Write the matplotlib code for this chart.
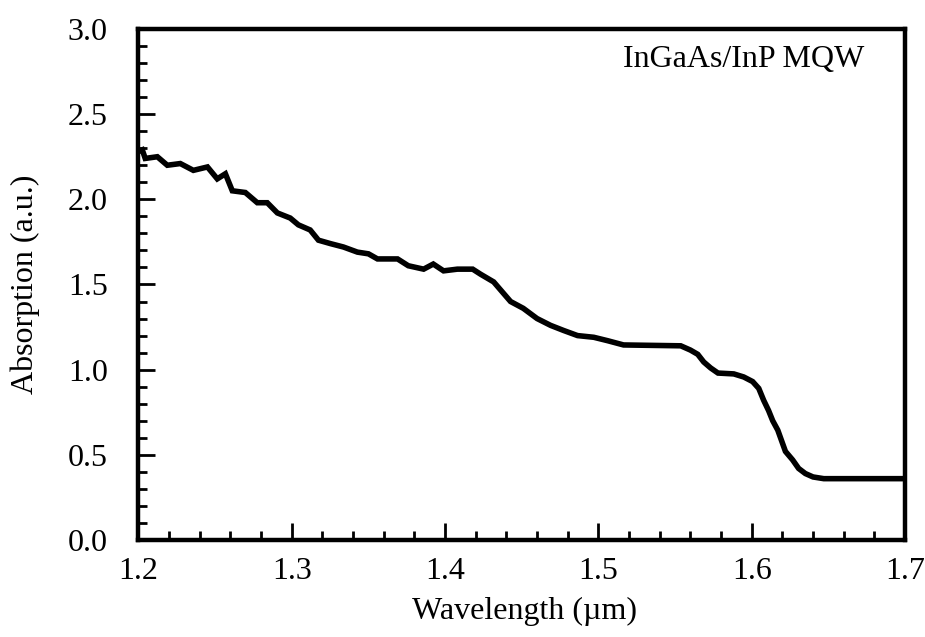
import numpy as np
import matplotlib
matplotlib.use("Agg")
import matplotlib.pyplot as plt
from matplotlib.ticker import MultipleLocator

# absorption spectrum
wavelength = [1.2000, 1.2025, 1.2044, 1.2123, 1.2188, 1.2273, 1.2358, 1.2450,
              1.2514, 1.2567, 1.2612, 1.2697, 1.2775, 1.2840, 1.2906, 1.2990,
              1.3043, 1.3120, 1.3174, 1.3252, 1.3337, 1.3428, 1.3500, 1.3559,
              1.3690, 1.3760, 1.3860, 1.3923, 1.3990, 1.4080, 1.4180, 1.4232,
              1.4317, 1.4360, 1.4427, 1.4510, 1.4600, 1.4688, 1.4773, 1.4864,
              1.4970, 1.5060, 1.5164, 1.5537, 1.5600, 1.5648, 1.5687, 1.5732,
              1.5780, 1.5883, 1.5948, 1.6006, 1.6046, 1.6078, 1.6110, 1.6137,
              1.6170, 1.6200, 1.6220, 1.6267, 1.6306, 1.6350, 1.6400, 1.6470,
              1.7000]
absorption = [2.28, 2.29, 2.24, 2.25, 2.20, 2.21, 2.17, 2.19,
              2.12, 2.15, 2.05, 2.04, 1.98, 1.98, 1.92, 1.89,
              1.85, 1.82, 1.76, 1.74, 1.72, 1.69, 1.68, 1.65,
              1.65, 1.61, 1.59, 1.62, 1.58, 1.59, 1.59, 1.56,
              1.515, 1.47, 1.40, 1.36, 1.30, 1.26, 1.23, 1.20,
              1.19, 1.17, 1.145, 1.14, 1.115, 1.09, 1.045, 1.01,
              0.98, 0.975, 0.957, 0.93, 0.89, 0.82, 0.76, 0.70,
              0.645, 0.57, 0.52, 0.47, 0.42, 0.39, 0.37, 0.36,
              0.36]

x_ticks = [1.2, 1.3, 1.4, 1.5, 1.6, 1.7]
y_ticks = [0.0, 0.5, 1.0, 1.5, 2.0, 2.5, 3.0]

plt.rcParams['font.family'] = ['Liberation Serif', 'DejaVu Serif']
plt.rcParams['font.size'] = 23

fig = plt.figure(figsize=(9.25, 6.37), dpi=100)
ax = fig.add_axes([0.1497, 0.1523, 0.8287, 0.8022])

ax.plot(wavelength, absorption, color='black', linewidth=4,
        solid_joinstyle='miter')

ax.set_xlim(1.2, 1.7)
ax.set_ylim(0.0, 3.0)
ax.set_xticks(x_ticks)
ax.set_yticks(y_ticks)
ax.set_xticklabels(["%.1f" % v for v in x_ticks])
ax.set_yticklabels(["%.1f" % v for v in y_ticks])
ax.xaxis.set_minor_locator(MultipleLocator(0.02))
ax.yaxis.set_minor_locator(MultipleLocator(0.1))

ax.tick_params(which='both', direction='in', top=False, right=False, width=2)
ax.tick_params(which='major', length=12, labelsize=23)
ax.tick_params(axis='y', which='major', pad=22)
ax.tick_params(axis='x', which='major', pad=12)
ax.tick_params(which='minor', length=6.5)

for s in ax.spines.values():
    s.set_linewidth(3.2)

ax.set_xlabel('Wavelength (µm)', fontsize=23)
ax.set_ylabel('Absorption (a.u.)', fontsize=23)
ax.xaxis.set_label_coords(0.503, -0.112)
ax.yaxis.set_label_coords(-0.128, 0.5)

ax.text(1.516, 2.82, 'InGaAs/InP MQW', fontsize=23, ha='left', va='center')

fig.savefig('out.png', dpi=100)
